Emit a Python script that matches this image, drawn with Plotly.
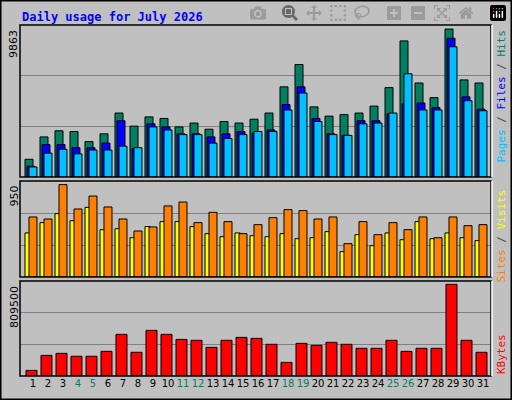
import plotly.graph_objects as go

days = list(range(1, 32))
weekend = [4, 5, 11, 12, 18, 19, 25, 26]
hits = [1150,2600,3000,2950,2300,2800,4150,3300,3900,3800,3250,3500,3100,3600,3500,3750,4150,5850,7300,4550,3950,4050,4150,4600,5800,8830,6100,5150,9600,6300,6100]
files = [700,2100,2100,1900,1900,2200,3650,1850,3450,3250,2800,2800,2600,2800,2950,2850,3050,4700,5850,3800,2800,2700,3650,3650,4100,4750,4800,4500,9000,5200,4400]
pages = [650,1550,1800,1500,1750,1750,2000,1900,3250,3050,2750,2750,2200,2500,2750,2950,2950,4350,5450,3600,2750,2700,3450,3500,4150,6700,4350,4350,8450,4950,4300]
sites = [436,538,627,557,689,468,478,389,499,548,548,499,429,399,436,409,399,429,379,389,449,251,419,310,436,369,548,379,436,389,360]
visits = [594,574,914,673,801,693,574,455,495,703,742,538,640,548,429,518,587,667,657,574,594,330,548,419,538,469,594,389,594,508,518]
kbytes = [48000,176000,193000,168000,168000,210000,355000,202000,389000,355000,312000,304000,244000,304000,329000,321000,270000,116000,278000,261000,287000,270000,236000,236000,304000,210000,236000,236000,781000,304000,202000]
totals = {"hits": 9863, "visits": 950, "kbytes": 809500}

C_HITS, C_FILES, C_PAGES = "#008060", "#0000FF", "#00C0FF"
C_SITES, C_VISITS, C_KB = "#FFFF00", "#FF8000", "#FF0000"
ln = dict(color="black", width=1)

fig = go.Figure()
def bar(y, color, off, w, xa, ya):
    fig.add_trace(go.Bar(x=days, y=y, marker=dict(color=color, line=ln), offset=off, width=w,
                         xaxis=xa, yaxis=ya, showlegend=False))
bar(hits, C_HITS, -0.533, 0.533, "x", "y")
bar(files, C_FILES, -0.4, 0.533, "x", "y")
bar(pages, C_PAGES, -0.267, 0.533, "x", "y")
bar(sites, C_SITES, -0.533, 0.35, "x2", "y2")
bar(visits, C_VISITS, -0.267, 0.533, "x2", "y2")
bar(kbytes, C_KB, -0.467, 0.733, "x3", "y3")

xr = [1 - 13/15, 1 + 458/15]
xd = [20/512, 491/512]
grid = "#808080"
def yax(maxv, dom):
    return dict(domain=dom, range=[0, maxv], tickvals=[maxv/3, 2*maxv/3], showticklabels=False,
                gridcolor=grid, gridwidth=1, zeroline=False, fixedrange=True)
def xax(anchor, show):
    d = dict(domain=xd, range=xr, anchor=anchor, showgrid=False, zeroline=False)
    if show:
        d.update(tickvals=days, ticklen=0, tickangle=0,
                 ticktext=[f'<span style="color:#008060">{d_}</span>' if d_ in weekend else str(d_) for d_ in days],
                 tickfont=dict(family="DejaVu Sans", size=10, color="black"))
    else:
        d.update(showticklabels=False)
    return d

fig.update_layout(
    width=512, height=400, margin=dict(l=0, r=0, t=0, b=0),
    paper_bgcolor="#C0C0C0", plot_bgcolor="#C0C0C0", barmode="overlay",
    xaxis=xax("y", False), xaxis2=xax("y2", False), xaxis3=xax("y3", True),
    yaxis=yax(totals["hits"], [0.5575, 0.9375]),
    yaxis2=yax(totals["visits"], [0.3075, 0.5475]),
    yaxis3=yax(totals["kbytes"], [0.06, 0.2975]),
)

shapes = [dict(type="rect", xref="paper", yref="paper", x0=0.001, x1=0.999, y0=0.001, y1=0.999,
               line=dict(color="black", width=2))]
for y0, y1 in [(0.5575, 0.9375), (0.3075, 0.5475), (0.06, 0.2975)]:
    shapes.append(dict(type="rect", xref="paper", yref="paper", x0=xd[0], x1=xd[1], y0=y0, y1=y1,
                       line=dict(color="black", width=1.5)))
    shapes.append(dict(type="line", xref="paper", yref="paper", x0=xd[1]+0.002, x1=xd[1]+0.002, y0=y0, y1=y1,
                       line=dict(color="white", width=1.5)))
fig.update_layout(shapes=shapes)

mono = "DejaVu Sans Mono"
ann = [
    dict(text="<b>Daily usage for July 2026</b>", x=20/512, y=1-8/400, xanchor="left", yanchor="top",
         font=dict(family=mono, size=12, color="#0000FF")),
    dict(text=str(totals["hits"]), x=14/512, y=0.93, xanchor="center", yanchor="top", textangle=-90,
         font=dict(family="DejaVu Sans", size=11, color="black")),
    dict(text=str(totals["visits"]), x=14/512, y=0.54, xanchor="center", yanchor="top", textangle=-90,
         font=dict(family="DejaVu Sans", size=11, color="black")),
    dict(text=str(totals["kbytes"]), x=14/512, y=0.29, xanchor="center", yanchor="top", textangle=-90,
         font=dict(family="DejaVu Sans", size=11, color="black")),
    dict(text=f'<span style="color:{C_PAGES}">Pages</span><span style="color:#404040"> / </span>'
              f'<span style="color:{C_FILES}">Files</span><span style="color:#404040"> / </span>'
              f'<span style="color:{C_HITS}">Hits</span>',
         x=501/512, y=0.93, xanchor="center", yanchor="top", textangle=-90,
         font=dict(family=mono, size=11)),
    dict(text=f'<span style="color:{C_VISITS}">Sites</span><span style="color:#404040"> / </span>'
              f'<span style="color:{C_SITES}">Visits</span>',
         x=501/512, y=0.53, xanchor="center", yanchor="top", textangle=-90,
         font=dict(family=mono, size=11)),
    dict(text=f'<span style="color:{C_KB}">KBytes</span>', x=501/512, y=0.06, xanchor="center",
         yanchor="bottom", textangle=-90, font=dict(family=mono, size=11)),
]
for a in ann:
    a.update(xref="paper", yref="paper", showarrow=False)
fig.update_layout(annotations=ann)
fig.write_html("out.html")

with open("out.html", encoding="utf-8") as f:
    html = f.read()
html = html.replace("<head>", "<head><style>html,body{margin:0;padding:0;overflow:hidden}</style>", 1)
with open("out.html", "w", encoding="utf-8") as f:
    f.write(html)
